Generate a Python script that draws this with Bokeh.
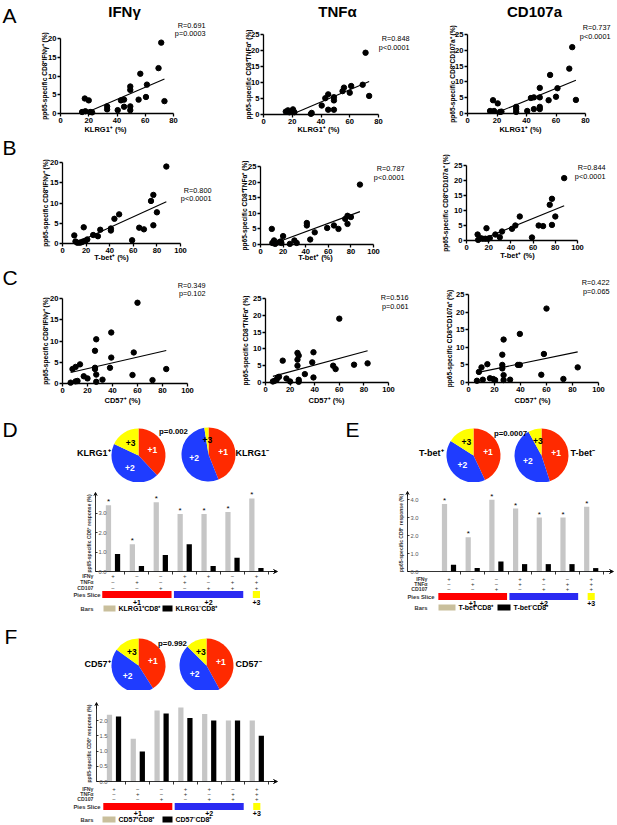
import numpy as np
from bokeh.plotting import figure
from bokeh.models import (Range1d, FixedTicker, NumeralTickFormatter, LinearAxis,
                          Arrow, VeeHead, Spacer)
from bokeh.layouts import row, column
from bokeh.core.properties import value
from bokeh.embed import file_html
from bokeh.resources import INLINE

# ---------------- data ----------------
klrg1_ifng_x = [15.3, 17.2, 17.6, 20.0, 21.0, 22.4, 33.0, 33.0, 40.5, 42.8, 45.0, 45.0, 49.4, 49.4, 49.4, 49.4, 55.3, 56.5, 60.5, 61.2, 69.4, 71.3, 73.6]
klrg1_ifng_y = [0.4, 4.0, 0.6, 3.5, 0.4, 0.3, 1.9, 1.1, 0.9, 3.5, 3.7, 1.8, 7.2, 6.3, 1.9, 0.9, 3.7, 10.6, 4.4, 7.7, 12.1, 18.9, 3.3]
klrg1_tnfa_x = [15.5, 17.0, 18.0, 20.5, 21.5, 33.0, 33.5, 40.5, 43.0, 45.0, 45.0, 49.0, 49.0, 49.0, 55.0, 56.0, 60.0, 61.0, 69.0, 71.0, 73.5]
klrg1_tnfa_y = [0.9, 1.3, 0.7, 1.6, 0.7, 0.2, 0.5, 2.8, 5.1, 6.3, 1.5, 5.4, 4.4, 1.5, 7.3, 8.4, 6.8, 8.9, 9.3, 19.3, 5.8]
klrg1_cd107_x = [15.3, 17.3, 18.0, 20.5, 22.0, 23.0, 33.0, 33.0, 33.0, 40.5, 43.0, 45.0, 45.0, 49.0, 49.0, 49.0, 49.0, 55.0, 56.0, 60.0, 61.0, 69.0, 71.0, 73.5]
klrg1_cd107_y = [0.8, 4.2, 0.8, 3.2, 0.5, 0.6, 2.1, 1.4, 0.5, 0.8, 4.9, 5.1, 1.4, 5.1, 8.1, 2.1, 1.4, 4.2, 12.2, 5.3, 8.0, 14.2, 21.0, 4.3]

tbet_ifng_x = [10.0, 11.0, 12.5, 14.5, 16.0, 17.5, 18.0, 19.5, 21.0, 26.0, 30.0, 32.0, 41.0, 41.0, 44.0, 48.0, 59.0, 65.0, 69.0, 75.0, 77.0, 77.0, 80.0, 88.0]
tbet_ifng_y = [2.0, 0.5, 0.2, 0.2, 0.3, 0.5, 4.0, 0.7, 1.0, 2.1, 1.8, 3.4, 3.7, 3.2, 6.1, 7.2, 0.8, 3.9, 3.5, 10.5, 12.0, 4.5, 7.7, 19.0]
tbet_tnfa_x = [10.0, 10.5, 12.0, 13.0, 16.5, 18.0, 18.5, 20.0, 26.0, 30.0, 32.0, 41.0, 41.0, 44.0, 48.0, 59.0, 65.0, 69.0, 75.0, 77.0, 77.0, 80.0, 88.0]
tbet_tnfa_y = [5.0, 0.5, 1.3, 0.2, 0.7, 1.0, 0.5, 2.7, 0.2, 1.3, 0.5, 6.9, 6.1, 1.6, 3.9, 5.3, 6.1, 5.0, 8.2, 9.2, 6.6, 8.8, 19.2]
tbet_cd107_x = [10.0, 10.5, 12.5, 14.5, 17.0, 18.0, 19.5, 21.0, 26.0, 30.0, 32.0, 41.0, 44.0, 48.0, 59.0, 65.0, 69.0, 75.0, 77.0, 77.0, 80.0, 88.0]
tbet_cd107_y = [2.0, 0.2, 0.8, 0.6, 0.6, 4.1, 0.6, 0.8, 2.0, 1.1, 3.0, 3.9, 5.0, 8.0, 1.0, 5.0, 4.8, 11.9, 13.9, 5.2, 8.0, 20.8]

cd57_ifng_x = [6.5, 8.0, 10.5, 10.5, 12.0, 14.0, 17.0, 20.0, 26.0, 26.0, 26.0, 27.0, 27.0, 27.0, 32.0, 38.0, 39.0, 39.0, 56.0, 57.0, 60.0, 72.0, 83.0]
cd57_ifng_y = [0.2, 3.4, 3.9, 0.5, 0.6, 4.5, 1.7, 1.2, 7.7, 3.7, 3.4, 10.4, 2.1, 0.4, 0.9, 3.7, 12.0, 6.1, 2.0, 7.3, 19.0, 0.8, 3.4]
cd57_tnfa_x = [6.0, 7.5, 9.0, 10.0, 11.0, 14.0, 17.0, 20.0, 26.0, 26.0, 27.0, 26.0, 27.0, 27.0, 32.0, 38.0, 39.0, 39.0, 60.0, 55.0, 57.0, 72.0, 83.0]
cd57_tnfa_y = [0.3, 0.5, 0.8, 1.5, 1.7, 6.5, 1.2, 0.3, 6.8, 8.8, 8.0, 5.0, 0.8, 0.2, 2.5, 6.0, 9.0, 1.5, 19.0, 5.0, 4.0, 5.3, 5.7]
cd57_cd107_x = [6.5, 8.0, 10.0, 11.0, 14.5, 16.5, 19.0, 20.5, 26.0, 26.0, 26.0, 27.0, 27.0, 27.0, 32.0, 38.0, 39.5, 39.5, 56.0, 58.0, 60.0, 73.0, 84.0]
cd57_cd107_y = [0.5, 3.0, 4.3, 0.8, 5.2, 1.2, 1.0, 0.7, 7.9, 5.0, 4.0, 12.2, 2.1, 0.7, 0.8, 5.0, 5.0, 13.8, 2.2, 8.1, 21.0, 1.0, 4.3]

stats_text = {
    "A1": ("R=0.691", "p=0.0003"), "A2": ("R=0.848", "p<0.0001"), "A3": ("R=0.737", "p<0.0001"),
    "B1": ("R=0.800", "p<0.0001"), "B2": ("R=0.787", "p<0.0001"), "B3": ("R=0.844", "p<0.0001"),
    "C1": ("R=0.349", "p=0.102"), "C2": ("R=0.516", "p=0.061"), "C3": ("R=0.422", "p=0.065"),
}
ticks_x80 = [0, 20, 40, 60, 80]
ticks_x100 = [0, 20, 40, 60, 80, 100]
ticks_y20 = [0, 5, 10, 15, 20]
ticks_y25 = [0, 5, 10, 15, 20, 25]

slice_names = ["+1", "+2", "+3"]
pie_klrg1_pos = [0.38, 0.44, 0.18]
pie_klrg1_neg = [0.44, 0.535, 0.025]
pie_tbet_pos = [0.43, 0.41, 0.16]
pie_tbet_neg = [0.45, 0.47, 0.08]
pie_cd57_pos = [0.41, 0.44, 0.15]
pie_cd57_neg = [0.42, 0.455, 0.125]

bar_klrg1_pos = [3.4, 1.4, 3.55, 2.95, 2.95, 3.05, 3.75]
bar_klrg1_neg = [0.9, 0.28, 0.85, 1.4, 0.28, 0.7, 0.18]
bar_tbet_pos = [3.75, 1.9, 3.98, 3.5, 3.0, 3.0, 3.6]
bar_tbet_neg = [0.37, 0.19, 0.56, 0.41, 0.41, 0.41, 0.19]
bar_cd57_pos = [2.19, 1.4, 2.33, 2.43, 2.21, 2.0, 2.0]
bar_cd57_neg = [2.13, 0.98, 2.23, 2.08, 2.0, 2.0, 1.5]

row_names = ["IFN\u03b3", "TNF\u03b1", "CD107"]
sign_ifng = ["+", "\u2212", "\u2212", "+", "+", "\u2212", "+"]
sign_tnfa = ["\u2212", "+", "\u2212", "+", "\u2212", "+", "+"]
sign_cd107 = ["\u2212", "\u2212", "+", "\u2212", "+", "+", "+"]
slice_groups = [[1, 2, 3], [4, 5, 6], [7]]

# ---------------- style ----------------
FONT = "Liberation Sans"
PIE_COLORS = ["#FF2A00", "#1F3CFF", "#FFFF00"]
PIE_TEXT = ["white", "white", "black"]
SLICE_COLORS = ["#FF0000", "#2A2AF2", "#FFFF00"]
GRAY = "#C6C6C6"
BEIGE = "#C9BF9C"


def base_fig(X0, Y0, W, H, xr, yr):
    p = figure(width=W, height=H, x_range=Range1d(*xr), y_range=Range1d(*yr),
               output_backend="svg", toolbar_location=None,
               x_axis_type=None, y_axis_type=None, min_border=0)
    p.outline_line_color = None
    return p


def add_text(p, x, y, text, size, bold=False, align="left", angle=0.0, color="black", base="middle"):
    p.text(x=[x], y=[y], text=[text], angle=angle, text_font=value(FONT),
           text_font_size=f"{size}px", text_font_style="bold" if bold else "normal",
           text_align=align, text_baseline=base, text_color=color)


def style_axis(ax, size, bold, tick_out, lw, color="black", standoff=2):
    ax.major_tick_out = tick_out
    ax.major_tick_in = 0
    ax.minor_tick_line_color = None
    ax.axis_line_width = lw
    ax.major_tick_line_width = lw
    ax.major_label_text_font = FONT
    ax.major_label_text_font_size = f"{size}px"
    ax.major_label_text_font_style = "bold" if bold else "normal"
    ax.major_label_text_color = color
    ax.major_label_standoff = standoff


def scatter_panel(box, frame, xr, yr, xticks, yticks, xs, ys, xlabel, ylabel,
                  ylab_x, xlab_xy, stats, stats_right, stats_y, title=None, letter=None):
    X0, Y0, W, H = box
    L, T, R, B = frame

    def dx(X):
        return xr[0] + (X - L) / (R - L) * (xr[1] - xr[0])

    def dy(Y):
        return yr[0] + (B - Y) / (B - T) * (yr[1] - yr[0])

    p = base_fig(X0, Y0, W, H, (dx(X0), dx(X0 + W)), (dy(Y0 + H), dy(Y0)))
    xax = LinearAxis(fixed_location=yr[0], bounds=tuple(xr), ticker=FixedTicker(ticks=xticks))
    yax = LinearAxis(fixed_location=xr[0], bounds=tuple(yr), ticker=FixedTicker(ticks=yticks))
    style_axis(xax, 7.6, True, 3, 1.3, standoff=1)
    style_axis(yax, 7.6, True, 3, 1.3, standoff=1)
    p.add_layout(xax, "below")
    p.add_layout(yax, "left")

    p.scatter(xs, ys, size=5.4, color="black")
    m, c = np.polyfit(xs, ys, 1)
    x0, x1 = min(xs), max(xs)
    if m * x0 + c < yr[0]:
        x0 = (yr[0] - c) / m
    p.line([x0, x1], [m * x0 + c, m * x1 + c], color="black", line_width=1.1)

    add_text(p, dx(ylab_x), dy((T + B) / 2), ylabel, 6.6, bold=True, align="center", angle=np.pi / 2)
    add_text(p, dx(xlab_xy[0]), dy(xlab_xy[1]), xlabel, 7.5, bold=True, align="center")
    add_text(p, dx(stats_right), dy(stats_y[0]), stats[0], 7.3, align="right")
    add_text(p, dx(stats_right), dy(stats_y[1]), stats[1], 7.3, align="right")
    if title:
        add_text(p, dx(title[1]), dy(title[2]), title[0], 15, bold=True, align="center")
    if letter:
        add_text(p, dx(letter[1]), dy(letter[2]), letter[0], 21)
    return p


def pie_panel(box, pies, side_labels, ptext, letter):
    X0, Y0, W, H = box
    p = base_fig(X0, Y0, W, H, (X0, X0 + W), (-(Y0 + H), -Y0))
    for cx, cy, r, fr in pies:
        cum = np.concatenate([[0.0], np.cumsum(fr)])
        start = np.pi / 2 - 2 * np.pi * cum[:-1]
        end = np.pi / 2 - 2 * np.pi * cum[1:]
        n = len(fr)
        p.wedge(x=[cx] * n, y=[-cy] * n, radius=r, start_angle=list(start), end_angle=list(end),
                direction="clock", fill_color=PIE_COLORS, line_color=None)
        mid = np.pi / 2 - 2 * np.pi * (cum[:-1] + cum[1:]) / 2
        p.text(x=list(cx + 0.55 * r * np.cos(mid)), y=list(-cy + 0.55 * r * np.sin(mid)),
               text=slice_names, text_color=PIE_TEXT, text_font=value(FONT),
               text_font_size="8.5px", text_font_style="bold",
               text_align="center", text_baseline="middle")
    for (X, Y, t, al) in side_labels:
        add_text(p, X, -Y, t, 9, bold=True, align=al)
    add_text(p, ptext[0], -ptext[1], ptext[2], 7.8, bold=True, align="center")
    add_text(p, letter[1], -letter[2], letter[0], 21)
    return p


def bar_panel(box, g, gray, black, stars, yticks, legend_names):
    X0, Y0, W, H = box

    def xd(X):
        return 1 + (X - g["g0"]) / g["gx"]

    def yd(Y):
        return (g["zero"] - Y) / g["py"]

    p = base_fig(X0, Y0, W, H, (xd(X0), xd(X0 + W)), (yd(Y0 + H), yd(Y0)))
    yax = LinearAxis(fixed_location=xd(g["ax"]), bounds=(0, g["ymax"]),
                     ticker=FixedTicker(ticks=yticks), formatter=NumeralTickFormatter(format="0.0"))
    style_axis(yax, 5.8, False, 2, 0.8, color="#555555", standoff=1)
    p.add_layout(yax, "right")
    xax = LinearAxis(fixed_location=0, bounds=(xd(g["ax"]), xd(g["xend"]) - 0.1),
                     ticker=FixedTicker(ticks=[i + 0.5 for i in range(1, 8)]))
    style_axis(xax, 5.5, False, 3, 0.8)
    xax.major_label_text_color = None
    p.add_layout(xax, "below")
    p.add_layout(Arrow(end=VeeHead(size=4, line_width=0.8), line_width=0.8,
                       x_start=xd(g["xend"]) - 0.3, y_start=0, x_end=xd(g["xend"]), y_end=0))
    p.add_layout(Arrow(end=VeeHead(size=3, line_width=0.8), line_width=0.8,
                       x_start=xd(g["ax"]), y_start=g["ymax"] - 0.1, x_end=xd(g["ax"]),
                       y_end=g["ymax"] + 3 / g["py"]))

    xs = np.arange(1, 8)
    p.vbar(x=list(xs - 0.19), top=gray, width=0.22, fill_color=GRAY, line_color=None)
    p.vbar(x=list(xs + 0.19), top=black, width=0.22, fill_color="black", line_color=None)
    if stars:
        p.text(x=list(xs - 0.19), y=gray, text=["*"] * 7, text_font=value(FONT),
               text_font_size="8px", text_align="center", text_baseline="bottom",
               y_offset=1, text_color="black")
    add_text(p, xd(g["ylab_x"]), g["ymax"] / 2, "pp65-specific CD8\u207a response (%)", 5.0,
             bold=True, align="center", angle=np.pi / 2, color="#333333")

    rows_y = g["rows"]
    for name, signs, Y in zip(row_names, [sign_ifng, sign_tnfa, sign_cd107], rows_y[:3]):
        p.text(x=list(xs), y=[yd(Y)] * 7, text=signs, text_font=value(FONT), text_font_size="6px",
               text_align="center", text_baseline="middle", text_color="#333333")
        add_text(p, xd(g["name_r"]), yd(Y), name, 5.2, bold=True, align="right", color="#333333")
    Ys = rows_y[3]
    add_text(p, xd(g["name_r"] + 7), yd(Ys), "Pies Slice", 5.8, bold=True, align="right", color="#333333")
    lefts, rights = [], []
    for grp in slice_groups:
        if len(grp) > 1:
            lefts.append(grp[0] - 0.45)
            rights.append(grp[-1] + 0.45)
        else:
            lefts.append(grp[0] - 0.15)
            rights.append(grp[0] + 0.15)
    h = 3.5 / g["py"]
    p.quad(left=lefts, right=rights, bottom=[yd(Ys) - h] * 3, top=[yd(Ys) + h] * 3,
           fill_color=SLICE_COLORS, line_color=None)
    p.text(x=[(a + b) / 2 for a, b in zip(lefts, rights)], y=[yd(rows_y[4])] * 3, text=slice_names,
           text_font=value(FONT), text_font_size="7px", text_font_style="bold",
           text_align="center", text_baseline="middle", text_color="black")
    Yb = rows_y[5]
    add_text(p, xd(g["name_r"]), yd(Yb), "Bars", 5.8, bold=True, align="right", color="#333333")
    sw = g["legend"]
    p.quad(left=[xd(sw[0][0]), xd(sw[1][0])], right=[xd(sw[0][1]), xd(sw[1][1])],
           bottom=[yd(Yb) - 3 / g["py"]] * 2, top=[yd(Yb) + 3 / g["py"]] * 2,
           fill_color=[BEIGE, "black"], line_color=None)
    p.text(x=[xd(sw[0][1] + 3), xd(sw[1][1] + 3)], y=[yd(Yb)] * 2, text=legend_names,
           text_font=value(FONT), text_font_size="7px", text_font_style="bold",
           text_align="left", text_baseline="middle", text_color="black")
    return p


# ---------------- scatter rows ----------------
sup = "\u207a"
minus = "\u207b"
A1 = scatter_panel((0, 0, 208, 134), (60, 38, 173, 113), (0, 80), (0, 20), ticks_x80, ticks_y20,
                   klrg1_ifng_x, klrg1_ifng_y, "KLRG1" + sup + " (%)",
                   "pp65-specific CD8" + sup + "IFN\u03b3" + sup + " (%)", 44, (105, 129),
                   stats_text["A1"], 205, (25, 33), title=("IFN\u03b3", 124, 11), letter=("A", 2, 15))
A2 = scatter_panel((208, 0, 205, 134), (263, 34, 378, 114), (0, 80), (0, 25), ticks_x80, ticks_y25,
                   klrg1_tnfa_x, klrg1_tnfa_y, "KLRG1" + sup + " (%)",
                   "pp65-specific CD8" + sup + "TNF\u03b1" + sup + " (%)", 248, (318, 129),
                   stats_text["A2"], 409, (38, 47), title=("TNF\u03b1", 337, 11))
A3 = scatter_panel((413, 0, 204, 134), (467, 34, 585, 113), (0, 80), (0, 25), ticks_x80, ticks_y25,
                   klrg1_cd107_x, klrg1_cd107_y, "KLRG1" + sup + " (%)",
                   "pp65-specific CD8" + sup + "CD107a" + sup + " (%)", 452, (520, 129),
                   stats_text["A3"], 610, (27, 36), title=("CD107a", 534, 11))

B1 = scatter_panel((0, 134, 214, 128), (62, 162, 180, 243), (0, 100), (0, 20), ticks_x100, ticks_y20,
                   tbet_ifng_x, tbet_ifng_y, "T-bet" + sup + "  (%)",
                   "pp65-specific CD8" + sup + "IFN\u03b3" + sup + " (%)", 45, (112, 257),
                   stats_text["B1"], 211, (190, 198), letter=("B", 2, 147))
B2 = scatter_panel((214, 134, 196, 128), (260, 166, 373, 244), (0, 100), (0, 25), ticks_x100, ticks_y25,
                   tbet_tnfa_x, tbet_tnfa_y, "T-bet" + sup + "  (%)",
                   "pp65-specific CD8" + sup + "TNF\u03b1" + sup + " (%)", 244, (316, 257),
                   stats_text["B2"], 404, (168, 177))
B3 = scatter_panel((410, 134, 207, 128), (466, 165, 577, 240), (0, 100), (0, 25), ticks_x100, ticks_y25,
                   tbet_cd107_x, tbet_cd107_y, "T-bet" + sup + "  (%)",
                   "pp65-specific CD8" + sup + "CD107a" + sup + " (%)", 445, (518, 255),
                   stats_text["B3"], 605, (167, 176))

C1 = scatter_panel((0, 262, 207, 146), (62, 298, 187, 383), (0, 100), (0, 20), ticks_x100, ticks_y20,
                   cd57_ifng_x, cd57_ifng_y, "CD57" + sup + " (%)",
                   "pp65-specific CD8" + sup + "IFN\u03b3" + sup + " (%)", 45, (122, 400),
                   stats_text["C1"], 205, (285, 293), letter=("C", 2, 277))
C2 = scatter_panel((207, 262, 205, 146), (265, 298, 388, 382), (0, 100), (0, 25), ticks_x100, ticks_y25,
                   cd57_tnfa_x, cd57_tnfa_y, "CD57" + sup + " (%)",
                   "pp65-specific CD8" + sup + "TNF\u03b1" + sup + " (%)", 245, (326, 400),
                   stats_text["C2"], 408, (297, 306))
C3 = scatter_panel((412, 262, 205, 146), (468, 294, 598, 382), (0, 100), (0, 25), ticks_x100, ticks_y25,
                   cd57_cd107_x, cd57_cd107_y, "CD57" + sup + " (%)",
                   "pp65-specific CD8" + sup + "CD107a" + sup + " (%)", 449, (532, 400),
                   stats_text["C3"], 609, (282, 291))

# ---------------- D / E / F ----------------
Dpie = pie_panel((0, 408, 300, 74),
                 [(138, 455, 27, pie_klrg1_pos), (208, 454, 27, pie_klrg1_neg)],
                 [(110, 452, "KLRG1" + sup, "right"), (235, 452, "KLRG1" + minus, "left")],
                 (173, 431, "p=0.002"), ("D", 2, 429))
Dbar = bar_panel((0, 482, 300, 130),
                 dict(g0=112.5, gx=23.9, zero=571, py=19.5, ax=95, xend=277, ymax=3.9, ylab_x=88,
                      rows=[575, 581, 587, 594, 602, 608], name_r=93,
                      legend=[(103, 115), (162, 172)]),
                 bar_klrg1_pos, bar_klrg1_neg, True, [0, 1, 2, 3],
                 ["KLRG1" + sup + "CD8" + sup, "KLRG1" + minus + "CD8" + sup])

Epie = pie_panel((300, 408, 317, 74),
                 [(473, 455, 27, pie_tbet_pos), (541, 455, 27, pie_tbet_neg)],
                 [(443, 452, "T-bet" + sup, "right"), (570, 452, "T-bet" + minus, "left")],
                 (510, 433, "p=0.0007"), ("E", 345, 429))
Ebar = bar_panel((300, 482, 317, 130),
                 dict(g0=448.5, gx=23.7, zero=571, py=18.0, ax=407, xend=613, ymax=4.28, ylab_x=400,
                      rows=[578, 583, 588, 596, 603, 607], name_r=427,
                      legend=[(438, 455), (497, 510)]),
                 bar_tbet_pos, bar_tbet_neg, True, [0, 1, 2, 3, 4],
                 ["T-bet" + sup + "CD8" + sup, "T-bet" + minus + "CD8" + sup])

Fpie = pie_panel((0, 612, 300, 78),
                 [(138, 665, 27, pie_cd57_pos), (206, 665, 27, pie_cd57_neg)],
                 [(110, 663, "CD57" + sup, "right"), (235, 663, "CD57" + minus, "left")],
                 (172, 643, "p=0.992"), ("F", 4, 636))
Fbar = bar_panel((0, 690, 300, 134),
                 dict(g0=113.5, gx=23.8, zero=781, py=30.5, ax=96, xend=277, ymax=2.49, ylab_x=88,
                      rows=[788, 793, 798, 806, 813, 819], name_r=93,
                      legend=[(102, 115), (162, 172)]),
                 bar_cd57_pos, bar_cd57_neg, False, [0, 0.5, 1, 1.5, 2],
                 ["CD57" + sup + "CD8" + sup, "CD57" + minus + "CD8" + sup])

layout = column(
    row(A1, A2, A3),
    row(B1, B2, B3),
    row(C1, C2, C3),
    row(column(Dpie, Dbar), column(Epie, Ebar)),
    row(column(Fpie, Fbar), Spacer(width=317, height=10)),
)

open("out.html", "w").write(file_html(layout, INLINE))
